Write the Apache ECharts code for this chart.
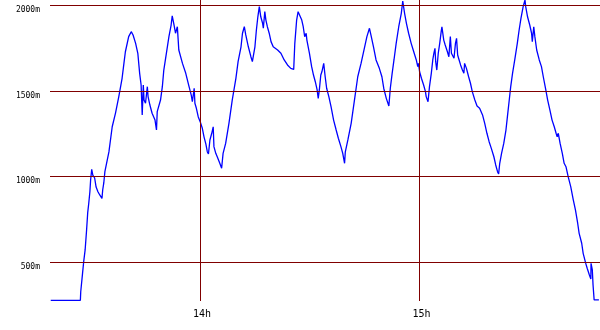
<!DOCTYPE html>
<html><head><meta charset="utf-8">
<script src="https://cdn.jsdelivr.net/npm/echarts@6/dist/echarts.min.js"></script>
<style>html,body{margin:0;padding:0;background:#fff}#c{width:600px;height:330px}</style>
</head><body><div id="c"></div>
<script>
// time in minutes since midnight
const minutes = [799.2,807.3,807.4,807.9,808.2,808.6,809.0,809.3,809.6,809.9,810.1,810.4,810.7,811.2,811.6,812.1,812.6,813.2,813.4,813.7,814.0,815.1,816.0,816.9,817.8,818.7,819.2,819.6,820.5,821.2,821.7,822.4,823.0,823.5,823.9,824.2,824.5,824.7,825.1,825.6,825.8,826.3,826.9,827.7,828.1,828.3,828.8,829.2,829.7,830.1,830.8,831.5,832.1,832.4,832.9,833.3,833.8,834.2,835.2,836.1,837.0,837.6,837.9,838.4,838.6,839.0,839.5,840.2,840.6,841.1,841.6,842.0,842.3,842.7,843.2,843.6,843.8,844.3,844.7,845.4,845.9,846.3,847.0,847.9,848.8,849.8,850.4,851.2,851.6,852.1,852.5,853.2,853.9,854.3,854.6,855.0,855.4,855.8,856.2,856.6,857.1,857.3,857.7,858.0,858.4,858.9,859.4,860.0,861.2,862.1,863.0,863.9,864.8,865.6,865.9,866.4,866.8,867.3,867.8,868.2,868.6,869.0,869.2,869.9,870.5,871.0,871.5,872.0,872.3,872.6,873.0,873.3,873.8,874.2,874.6,875.2,875.8,876.5,877.2,877.8,878.5,879.0,879.5,879.7,880.4,881.3,882.2,883.1,884.0,884.9,885.6,886.3,886.8,887.4,888.1,889.0,889.7,890.2,890.9,891.6,892.0,892.5,893.0,893.6,894.3,895.0,895.4,895.9,896.4,897.0,897.7,898.4,899.1,899.5,899.7,900.0,900.5,901.1,901.6,901.8,902.3,902.7,903.2,903.6,903.9,904.2,904.4,904.7,905.1,905.5,905.9,906.1,906.6,907.0,907.6,908.0,908.4,908.7,909.1,909.4,909.8,910.1,910.4,910.8,911.2,911.7,912.1,912.3,912.8,913.4,913.9,914.4,915.1,915.7,916.4,917.2,917.8,918.4,919.0,919.6,920.3,920.8,921.3,921.6,921.9,922.4,923.0,923.6,924.0,924.5,924.9,925.4,926.0,926.7,927.2,927.7,928.3,928.8,929.0,929.5,930.1,930.6,930.8,931.2,931.5,932.0,932.7,933.3,933.8,934.4,935.0,935.6,936.2,936.8,937.3,937.6,937.9,938.4,939.0,939.5,940.0,940.6,941.3,942.0,942.6,943.2,943.6,944.3,944.7,945.4,945.8,946.4,946.8,946.85,947.2,947.4,947.7,949.0];
// altitude in metres
const altitude = [278,278,328,437,502,572,688,788,846,912,980,1043,1009,992,939,912,893,873,922,963,1029,1144,1291,1371,1467,1574,1661,1729,1817,1846,1827,1778,1720,1603,1535,1360,1535,1447,1428,1525,1467,1418,1370,1330,1272,1379,1389,1447,1525,1622,1720,1817,1885,1938,1885,1837,1875,1739,1661,1603,1525,1476,1437,1516,1428,1399,1350,1311,1284,1231,1190,1144,1132,1214,1253,1291,1175,1136,1116,1078,1049,1136,1194,1311,1447,1574,1671,1758,1837,1875,1827,1758,1700,1671,1661,1758,1856,1933,1992,1933,1895,1866,1963,1914,1875,1837,1788,1758,1739,1720,1681,1652,1632,1626,1778,1914,1963,1973,1914,1875,1817,1837,1797,1720,1642,1593,1554,1506,1457,1506,1593,1612,1661,1583,1516,1467,1408,1330,1272,1224,1175,1136,1078,1145,1214,1311,1447,1583,1661,1749,1817,1866,1817,1758,1681,1632,1583,1516,1457,1412,1516,1603,1681,1778,1875,1953,2025,1953,1895,1837,1778,1729,1681,1642,1661,1612,1574,1535,1496,1467,1437,1525,1603,1681,1720,1749,1671,1622,1720,1778,1846,1875,1797,1768,1729,1700,1817,1720,1710,1691,1778,1807,1710,1681,1652,1622,1603,1661,1632,1583,1545,1496,1447,1412,1399,1360,1311,1253,1204,1165,1116,1068,1029,1015,1078,1136,1194,1272,1350,1447,1525,1603,1681,1778,1856,1924,1992,2031,1992,1933,1885,1837,1788,1875,1817,1739,1681,1642,1583,1516,1447,1389,1330,1291,1253,1233,1253,1194,1136,1078,1058,1000,942,864,805,728,669,611,552,494,465,426,402,494,455,367,280,280];
const altitudeLines = [500,1000,1500,2000];
const hourTicks = [14,15];

const chart = echarts.init(document.getElementById('c'), null, {renderer:'canvas'});
const data = minutes.map((m,i)=>[m, altitude[i]]);
chart.setOption({
  animation:false,
  grid:{left:50,right:0,top:0,bottom:29},
  xAxis:{type:'value',min:799,max:949.3,
    axisLine:{show:false},axisTick:{show:false},splitLine:{show:false},
    axisLabel:{customValues:hourTicks.map(h=>h*60),formatter:v=>Math.round(v/60)+'h',
      fontFamily:'DejaVu Sans Mono',fontSize:10,color:'#000',margin:8,padding:[0,0,0,4]}},
  yAxis:{type:'value',min:274,max:2031,
    axisLine:{show:false},axisTick:{show:false},splitLine:{show:false},
    axisLabel:{customValues:altitudeLines,formatter:v=>v+'m',
      fontFamily:'DejaVu Sans Mono',fontSize:8,color:'#000',margin:10,
      verticalAlign:'top',lineHeight:9}},
  series:[{
    type:'line',data:data,showSymbol:false,symbol:'none',
    lineStyle:{color:'#0000ff',width:1.3},
    z:3
  },{
    type:'line',data:[],silent:true,z:2,
    markLine:{silent:true,symbol:'none',label:{show:false},animation:false,
      lineStyle:{color:'#800000',width:1,type:'solid'},
      data:[...altitudeLines.map(v=>({yAxis:v})),...hourTicks.map(h=>({xAxis:h*60}))]}
  }]
});
</script></body></html>
